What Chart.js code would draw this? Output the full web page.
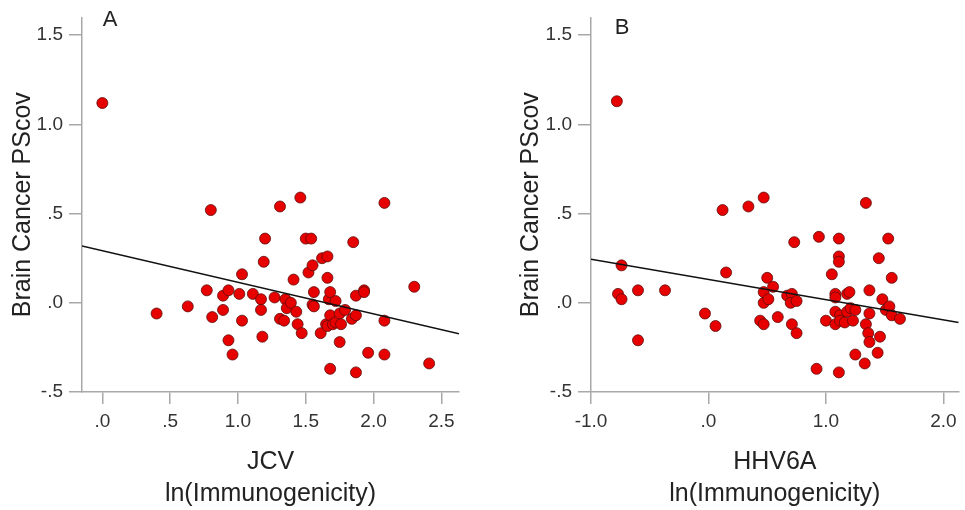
<!DOCTYPE html>
<html>
<head>
<meta charset="utf-8">
<script src="https://cdn.jsdelivr.net/npm/chart.js@4.4.1/dist/chart.umd.min.js"></script>
<style>
  html, body { margin: 0; padding: 0; background: #fff; }
  #wrap { position: relative; width: 965px; height: 510px; overflow: hidden; }
  canvas { position: absolute; top: 0; }
</style>
</head>
<body>
<div id="wrap">
  <canvas id="chartA" width="480" height="510" style="left:0px"></canvas>
  <canvas id="chartB" width="485" height="510" style="left:480px"></canvas>
</div>
<script>
// Panel A: JCV ln(Immunogenicity) vs Brain Cancer PScov
const jcvX = [0.00, 0.40, 0.63, 0.77, 0.80, 0.81, 0.89, 0.89, 0.93, 0.93,
              0.96, 1.01, 1.03, 1.03, 1.11, 1.17, 1.17, 1.18, 1.19, 1.20,
              1.27, 1.31, 1.31, 1.34, 1.35, 1.36, 1.39, 1.41, 1.43, 1.44,
              1.46, 1.47, 1.50, 1.52, 1.54, 1.55, 1.55, 1.56, 1.56, 1.61,
              1.62, 1.65, 1.66, 1.66, 1.67, 1.68, 1.68, 1.68, 1.66, 1.70,
              1.72, 1.72, 1.75, 1.75, 1.76, 1.79, 1.84, 1.85, 1.87, 1.87,
              1.87, 1.93, 1.93, 1.96, 2.08, 2.08, 2.08, 2.30, 2.41];
const jcvY = [1.12, -0.06, -0.02, 0.07, 0.52, -0.08, 0.04, -0.04, 0.07, -0.21,
              -0.29, 0.05, -0.10, 0.16, 0.05, 0.02, -0.04, -0.19, 0.23, 0.36,
              0.03, -0.09, 0.54, -0.10, 0.02, -0.03, 0.00, 0.13, -0.05, -0.12,
              0.59, -0.17, 0.36, 0.17, 0.36, 0.21, -0.01, -0.02, 0.06, -0.17,
              0.25, -0.12, 0.26, 0.14, 0.02, 0.06, -0.07, -0.37, -0.13, -0.12,
              0.01, -0.11, -0.22, -0.06, -0.12, -0.04, -0.09, 0.34, 0.04, -0.39,
              -0.07, 0.07, 0.06, -0.28, 0.56, -0.10, -0.29, 0.09, -0.34];
const jcvFitX = [-0.15, 2.63];
const jcvFitY = [0.318, -0.173];

// Panel B: HHV6A ln(Immunogenicity) vs Brain Cancer PScov
const hhvX = [-0.78, -0.74, -0.77, -0.74, -0.60, -0.60, -0.37, -0.03, 0.06, 0.12,
              0.15, 0.34, 0.47, 0.44, 0.47, 0.47, 0.47, 0.50, 0.51, 0.55,
              0.59, 0.67, 0.71, 0.70, 0.71, 0.73, 0.75, 0.75, 0.92, 0.94,
              1.00, 1.05, 1.08, 1.08, 1.08, 1.08, 1.11, 1.11, 1.11, 1.11,
              1.12, 1.12, 1.16, 1.18, 1.20, 1.18, 1.21, 1.23, 1.25, 1.25,
              1.33, 1.34, 1.34, 1.36, 1.37, 1.37, 1.37, 1.44, 1.45, 1.46,
              1.48, 1.51, 1.53, 1.54, 1.56, 1.56, 1.63];
const hhvY = [1.13, 0.21, 0.05, 0.02, 0.07, -0.21, 0.07, -0.06, -0.13, 0.52,
              0.17, 0.54, 0.59, -0.10, -0.12, 0.06, 0.00, 0.14, 0.02, 0.09,
              -0.08, 0.04, 0.05, 0.00, -0.12, 0.34, -0.17, 0.01, -0.37, 0.37,
              -0.10, 0.16, 0.05, 0.03, -0.05, -0.12, 0.36, 0.26, 0.23, -0.39,
              -0.07, -0.10, -0.11, 0.05, 0.06, -0.05, -0.03, -0.10, -0.04, -0.29,
              -0.34, 0.56, -0.12, -0.17, 0.07, -0.06, -0.22, -0.28, 0.25, -0.19,
              0.02, -0.04, 0.36, -0.02, 0.14, -0.07, -0.09];
const hhvFitX = [-1.0, 2.13];
const hhvFitY = [0.244, -0.110];

// axis ticks
const yTicks = [-0.5, 0, 0.5, 1.0, 1.5];
const yTickLabels = ['-.5', '.0', '.5', '1.0', '1.5'];
const jcvTicks = [0, 0.5, 1.0, 1.5, 2.0, 2.5];
const jcvTickLabels = ['.0', '.5', '1.0', '1.5', '2.0', '2.5'];
const hhvTicks = [-1.0, 0, 1.0, 2.0];
const hhvTickLabels = ['-1.0', '.0', '1.0', '2.0'];

const axisGray = '#a8a8a8';
const tickFont = { family: "'Liberation Sans Narrow', 'Liberation Sans', Arial, sans-serif", size: 19 };
const xTitleFont = { family: "'Liberation Sans', Arial, sans-serif", size: 25, lineHeight: 1.28 };
const yTitleFont = { family: "'Liberation Sans', Arial, sans-serif", size: 25, lineHeight: 1.2 };

// draws the panel letter (A / B) in the corner
const panelLetter = {
    id: 'panelLetter',
    afterDraw(chart, args, opts) {
        const ctx = chart.ctx;
        ctx.save();
        ctx.font = '22px "Liberation Sans", Arial, sans-serif';
        ctx.fillStyle = '#222';
        ctx.textAlign = 'center';
        ctx.textBaseline = 'middle';
        ctx.fillText(opts.text, opts.x, opts.y);
        ctx.restore();
    }
};

function toPoints(xs, ys) {
    return xs.map((x, i) => ({ x: x, y: ys[i] }));
}

function makePanel(id, p) {
    const ctx = document.getElementById(id).getContext('2d');
    return new Chart(ctx, {
        type: 'scatter',
        data: {
            datasets: [
                {
                    type: 'line',
                    data: toPoints(p.fitX, p.fitY),
                    borderColor: '#111',
                    borderWidth: 1.5,
                    pointRadius: 0,
                    fill: false,
                    order: 0
                },
                {
                    data: toPoints(p.x, p.y),
                    backgroundColor: '#e60000',
                    borderColor: '#5e0d0d',
                    borderWidth: 0.8,
                    pointRadius: 5.5,
                    order: 1
                }
            ]
        },
        options: {
            responsive: false,
            animation: false,
            layout: { padding: { left: 0, right: p.padRight, top: 13, bottom: 0 } },
            scales: {
                x: {
                    type: 'linear',
                    min: p.xMin,
                    max: p.xMax,
                    afterBuildTicks: s => { s.ticks = p.xTicks.map(v => ({ value: v })); },
                    afterFit: s => { s.height = 118; },
                    ticks: {
                        autoSkip: false,
                        maxRotation: 0,
                        padding: 6,
                        color: '#333',
                        font: tickFont,
                        callback: (v, i) => p.xTickLabels[i]
                    },
                    grid: { drawOnChartArea: false, drawTicks: true, tickLength: 12, color: axisGray, lineWidth: 1.5 },
                    border: { color: axisGray, width: 1.5 },
                    title: {
                        display: true,
                        text: [p.xName, 'ln(Immunogenicity)'],
                        color: '#222',
                        font: xTitleFont,
                        padding: { top: 0, bottom: 0 }
                    }
                },
                y: {
                    type: 'linear',
                    min: -0.5,
                    max: 1.6,
                    afterBuildTicks: s => { s.ticks = yTicks.map(v => ({ value: v })); },
                    afterFit: s => { s.width = p.yWidth; },
                    ticks: {
                        autoSkip: false,
                        padding: 6,
                        color: '#333',
                        font: tickFont,
                        callback: (v, i) => yTickLabels[i]
                    },
                    grid: { drawOnChartArea: false, drawTicks: true, tickLength: 13, color: axisGray, lineWidth: 1.5 },
                    border: { color: axisGray, width: 1.5 },
                    title: {
                        display: true,
                        text: 'Brain Cancer PScov',
                        color: '#222',
                        font: yTitleFont,
                        padding: { top: p.yTitlePad, bottom: 0 }
                    }
                }
            },
            plugins: {
                legend: { display: false },
                tooltip: { enabled: false },
                panelLetter: { text: p.letter, x: p.letterX, y: p.letterY }
            }
        },
        plugins: [panelLetter]
    });
}

makePanel('chartA', {
    x: jcvX, y: jcvY, fitX: jcvFitX, fitY: jcvFitY,
    xMin: -0.15, xMax: 2.63, xTicks: jcvTicks, xTickLabels: jcvTickLabels,
    xName: 'JCV', yWidth: 82, padRight: 21, yTitlePad: 8,
    letter: 'A', letterX: 110, letterY: 20
});

makePanel('chartB', {
    x: hhvX, y: hhvY, fitX: hhvFitX, fitY: hhvFitY,
    xMin: -1.0, xMax: 2.13, xTicks: hhvTicks, xTickLabels: hhvTickLabels,
    xName: 'HHV6A', yWidth: 111, padRight: 0, yTitlePad: 36,
    letter: 'B', letterX: 142, letterY: 28
});
</script>
</body>
</html>
